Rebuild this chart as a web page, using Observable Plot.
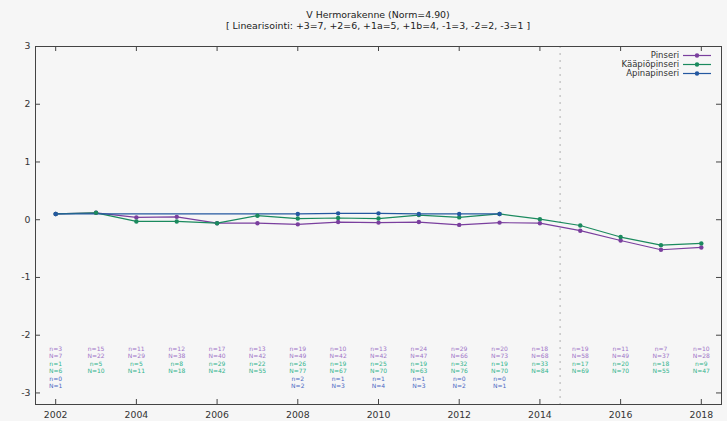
<!DOCTYPE html>
<html><head><meta charset="utf-8">
<script src="https://cdn.jsdelivr.net/npm/d3@7"></script>
<script src="https://cdn.jsdelivr.net/npm/@observablehq/plot@0.6"></script>
<style>
body{margin:0;background:#f6f6f6;font-family:"DejaVu Sans",sans-serif;}
#wrap{position:relative;width:727px;height:421px;}
#title{position:absolute;top:9px;left:35px;width:686px;text-align:center;font-size:9.4px;line-height:11px;color:#222;}
.leg{position:absolute;right:16px;height:9px;display:flex;align-items:center;justify-content:flex-end;font-size:8.5px;color:#333;white-space:nowrap;}
.leg svg{margin-left:4px;}
</style></head>
<body><div id="wrap"><div id="title">V Hermorakenne (Norm=4.90)<br>[ Linearisointi: +3=7, +2=6, +1a=5, +1b=4, -1=3, -2=2, -3=1 ]</div></div>
<script>
const years = [2002,2003,2004,2005,2006,2007,2008,2009,2010,2011,2012,2013,2014,2015,2016,2017,2018];
const seriesNames = ["Pinseri","Kääpiöpinseri","Apinapinseri"];
const lineColors = ["#7a3f9e","#1b8a5e","#2458a0"];
const annotColors = ["#a074c8","#30b48c","#4a68c4"];
const pinseri      = [0.10,0.12,0.04,0.05,-0.06,-0.06,-0.08,-0.04,-0.05,-0.04,-0.09,-0.05,-0.06,-0.19,-0.36,-0.52,-0.48];
const kaapiopinseri= [0.10,0.12,-0.03,-0.03,-0.06,0.07,0.02,0.03,0.02,0.08,0.04,0.10,0.01,-0.10,-0.30,-0.44,-0.41];
const apinapinseri = [0.10,null,null,null,null,null,0.10,0.11,0.11,0.10,0.10,0.10,null,null,null,null,null];
const pinseri_n = [3,15,11,12,17,13,19,10,13,24,29,20,18,19,11,7,10];
const pinseri_N = [7,22,29,38,40,42,49,42,42,47,66,73,68,58,49,37,28];
const kaapio_n  = [1,5,5,8,29,22,26,19,25,19,32,19,33,17,20,18,9];
const kaapio_N  = [6,10,11,18,42,55,77,67,70,63,76,70,84,69,70,55,47];
const apina_n   = [0,null,null,null,null,null,2,1,1,1,0,0,null,null,null,null,null];
const apina_N   = [1,null,null,null,null,null,2,3,4,3,2,1,null,null,null,null,null];
const xTicks = [2002,2004,2006,2008,2010,2012,2014,2016,2018];
const yTicks = [-3,-2,-1,0,1,2,3];
const breakYear = 2014.5;

const values = [pinseri,kaapiopinseri,apinapinseri];
const counts = [[pinseri_n,pinseri_N],[kaapio_n,kaapio_N],[apina_n,apina_N]];

const points = [];
values.forEach((vals,si)=>vals.forEach((v,i)=>{ if(v!=null) points.push({year:years[i],value:v,name:seriesNames[si]}); }));

const annot = [];
counts.forEach(([ns,Ns],si)=>years.forEach((y,i)=>{
  if(ns[i]!=null){
    annot.push({year:y,row:2*si,label:"n="+ns[i],s:si});
    annot.push({year:y,row:2*si+1,label:"N="+Ns[i],s:si});
  }
}));
const rowDy = [-54,-46.5,-39,-31.5,-24,-16.5];

const W = 727, H = 421, mT = 46, mL = 35, mR = 6, mB = 17;
const frameW = W - mL - mR, frameH = H - mT - mB, tk = 5;

const plot = Plot.plot({
  width:W, height:H,
  marginTop:mT, marginLeft:mL, marginRight:mR, marginBottom:mB,
  style:{background:"transparent",fontFamily:"DejaVu Sans, sans-serif",fontSize:"9px",color:"#333"},
  x:{domain:[2001.5,2018.5],label:null},
  y:{domain:[-3.2,3],label:null},
  color:{domain:seriesNames,range:lineColors},
  marks:[
    Plot.ruleX([breakYear],{stroke:"#b0b0b0",strokeDasharray:"2,5",strokeWidth:1}),
    Plot.axisX({ticks:xTicks,tickFormat:d=>String(d),tickSize:0,tickPadding:7,label:null,fontSize:9.3}),
    Plot.axisY({ticks:yTicks,tickFormat:d=>String(d),tickSize:0,tickPadding:5,label:null,fontSize:9.3}),
    Plot.tickX(xTicks,{x:d=>d,insetTop:frameH-tk,stroke:"#444"}),
    Plot.tickX(xTicks,{x:d=>d,insetBottom:frameH-tk,stroke:"#444"}),
    Plot.tickY(yTicks,{y:d=>d,insetRight:frameW-tk,stroke:"#444"}),
    Plot.tickY(yTicks,{y:d=>d,insetLeft:frameW-tk,stroke:"#444"}),
    ...rowDy.map((dy,r)=>Plot.text(annot.filter(d=>d.row===r),{x:"year",text:"label",fill:d=>annotColors[d.s],frameAnchor:"bottom",dy,fontSize:6})),
    Plot.line(points,{x:"year",y:"value",stroke:"name",z:"name",strokeWidth:1.2}),
    Plot.dot(points,{x:"year",y:"value",fill:"name",r:2.2}),
    Plot.frame({stroke:"#444"})
  ]
});
const wrap = document.getElementById("wrap");
wrap.insertBefore(plot, wrap.firstChild);

seriesNames.forEach((nm,i)=>{
  const d = document.createElement("div");
  d.className="leg";
  d.style.top = (50.5+i*9)+"px";
  d.innerHTML = `<span>${nm}</span><svg width="28" height="9"><line x1="0" x2="28" y1="4.5" y2="4.5" stroke="${lineColors[i]}" stroke-width="1.2"/><circle cx="14" cy="4.5" r="2.2" fill="${lineColors[i]}"/></svg>`;
  wrap.appendChild(d);
});
</script></body></html>
